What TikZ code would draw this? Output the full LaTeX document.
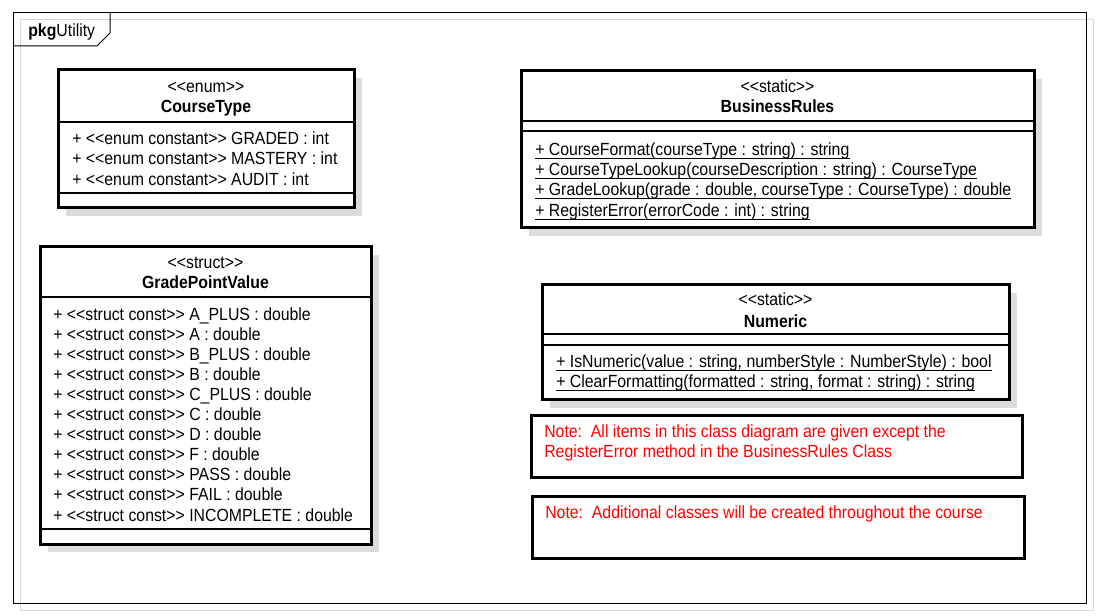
\documentclass[tikz,border=0pt]{standalone}
\usepackage{fontspec}
\usetikzlibrary{fit}
\newfontfamily\umlfont[FakeStretch=0.9]{Liberation Sans}
\definecolor{shadowgray}{HTML}{DCDCDC}
\definecolor{framegray}{HTML}{D8D8D8}
\definecolor{notered}{HTML}{FF0000}
\tikzset{
 classbox/.style={draw,line width=2.25pt,fill=white,inner sep=0pt},
 shadowbox/.style={fill=shadowgray},
 divider/.style={line width=0.9pt},
 stereo/.style={anchor=base,inner sep=0pt},
 member/.style={anchor=base west,inner sep=0pt},
 uline/.style={line width=0.75pt,shorten <=0pt},
 notetext/.style={anchor=base west,inner sep=0pt,text=notered},
 every node/.style={font=\umlfont\fontsize{13.2}{15}\selectfont}
}
\begin{document}
\begin{tikzpicture}[x=0.75pt,y=-0.75pt]
 \path[use as bounding box,fill=white](0,0) rectangle (1100,616);
 \draw[framegray,line width=0.75pt](20,20) rectangle (1093,610);
 \draw[line width=0.75pt](13,13) rectangle (1086,603);
 \draw[line width=0.75pt](13,46)--(97,46)--(110,33)--(110,13);
 \node[member] (pkg) at (28,36.5) {{\bfseries pkg}Utility};

 \fill[shadowbox](66,78) rectangle (362,216);
 \node[classbox,fit={(58,70) (354,208)}] (coursetype) {};
 \draw[divider](58,122)--(354,122);
 \draw[divider](58,193)--(354,193);
 \node[stereo] (coursetype-st) at (206,93) {<<enum>>};
 \node[stereo] (coursetype-name) at (206,113) {\bfseries CourseType};
 \node[member] (ct-graded) at (72,145) {+ <<enum constant>> GRADED : int};
 \node[member] (ct-mastery) at (72,165) {+ <<enum constant>> MASTERY : int};
 \node[member] (ct-audit) at (72,185.5) {+ <<enum constant>> AUDIT : int};

 \fill[shadowbox](48,255) rectangle (379,552);
 \node[classbox,fit={(40,247) (371,544)}] (gradepoint) {};
 \draw[divider](40,297)--(371,297);
 \draw[divider](40,529)--(371,529);
 \node[stereo] (gradepoint-st) at (205.5,269) {<<struct>>};
 \node[stereo] (gradepoint-name) at (205.5,289) {\bfseries GradePointValue};
 \node[member] (gp-aplus) at (53,321) {+ <<struct const>> A\_PLUS : double};
 \node[member] (gp-a) at (53,341) {+ <<struct const>> A : double};
 \node[member] (gp-bplus) at (53,361) {+ <<struct const>> B\_PLUS : double};
 \node[member] (gp-b) at (53,381) {+ <<struct const>> B : double};
 \node[member] (gp-cplus) at (53,401) {+ <<struct const>> C\_PLUS : double};
 \node[member] (gp-c) at (53,421) {+ <<struct const>> C : double};
 \node[member] (gp-d) at (53,441) {+ <<struct const>> D : double};
 \node[member] (gp-f) at (53,461) {+ <<struct const>> F : double};
 \node[member] (gp-pass) at (53,481) {+ <<struct const>> PASS : double};
 \node[member] (gp-fail) at (53,501) {+ <<struct const>> FAIL : double};
 \node[member] (gp-incomplete) at (53,521.5) {+ <<struct const>> INCOMPLETE : double};

 \fill[shadowbox](529,79) rectangle (1042,236);
 \node[classbox,fit={(521,71) (1034,228)}] (business) {};
 \draw[divider](521,121)--(1034,121);
 \draw[divider](521,131)--(1034,131);
 \node[stereo] (business-st) at (777.5,93) {<<static>>};
 \node[stereo] (business-name) at (777.5,113) {\bfseries BusinessRules};
 \node[member] (br-format) at (535,156) {+ CourseFormat(courseType : string) : string};
 \node[member] (br-lookup) at (535,176) {+ CourseTypeLookup(courseDescription : string) : CourseType};
 \node[member] (br-grade) at (535,196) {+ GradeLookup(grade : double, courseType : CourseType) : double};
 \node[member] (br-error) at (535,216.5) {+ RegisterError(errorCode : int) : string};
 \draw[uline]([yshift=-2.25pt]br-format.base west)--([yshift=-2.25pt]br-format.base east);
 \draw[uline]([yshift=-2.25pt]br-lookup.base west)--([yshift=-2.25pt]br-lookup.base east);
 \draw[uline]([yshift=-2.25pt]br-grade.base west)--([yshift=-2.25pt]br-grade.base east);
 \draw[uline]([yshift=-2.25pt]br-error.base west)--([yshift=-2.25pt]br-error.base east);

 \fill[shadowbox](550,293) rectangle (1017,408);
 \node[classbox,fit={(542,285) (1009,400)}] (numeric) {};
 \draw[divider](542,334)--(1009,334);
 \draw[divider](542,345)--(1009,345);
 \node[stereo] (numeric-st) at (775.5,306) {<<static>>};
 \node[stereo] (numeric-name) at (775.5,327.5) {\bfseries Numeric};
 \node[member] (nu-isnumeric) at (556,367.5) {+ IsNumeric(value : string, numberStyle : NumberStyle) : bool};
 \node[member] (nu-clear) at (556,388) {+ ClearFormatting(formatted : string, format : string) : string};
 \draw[uline]([yshift=-2.25pt]nu-isnumeric.base west)--([yshift=-2.25pt]nu-isnumeric.base east);
 \draw[uline]([yshift=-2.25pt]nu-clear.base west)--([yshift=-2.25pt]nu-clear.base east);

 \node[classbox,fit={(531,416) (1022,478)}] (note1) {};
 \node[notetext] (note1-a) at (544,437.5) {Note:\ \ All items in this class diagram are given except the};
 \node[notetext] (note1-b) at (544,457.5) {RegisterError method in the BusinessRules Class};
 \node[classbox,fit={(532,497) (1024,558)}] (note2) {};
 \node[notetext] (note2-a) at (545,518) {Note:\ \ Additional classes will be created throughout the course};
\end{tikzpicture}
\end{document}
